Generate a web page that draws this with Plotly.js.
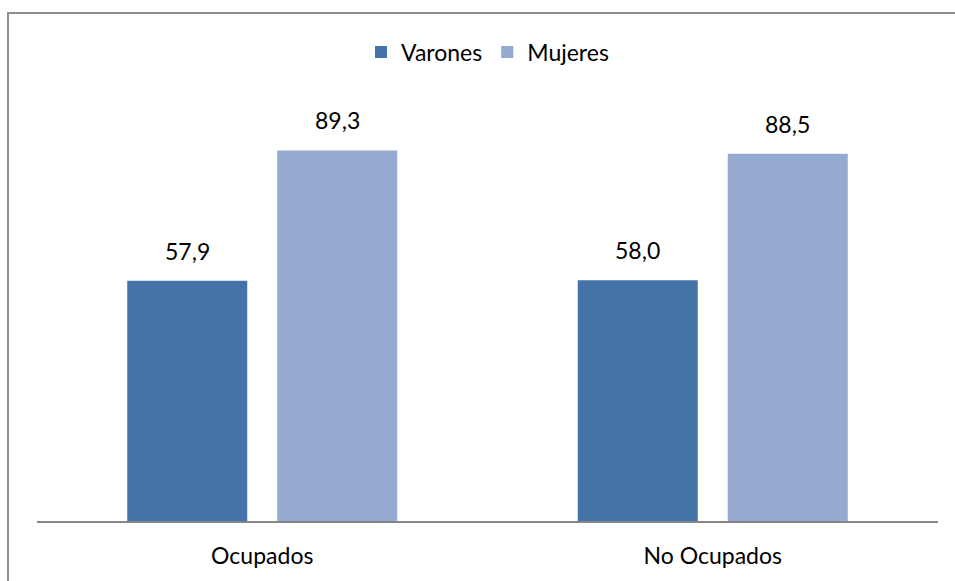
<!DOCTYPE html>
<html>
<head>
<meta charset="utf-8">
<script src="https://cdn.plot.ly/plotly-3.0.1.min.js"></script>
<style>
  html, body { margin: 0; padding: 0; background: #ffffff; }
  #frame { position: absolute; left: 7px; top: 12px; width: 980px; height: 620px;
           border-left: 2px solid #8e8e8e; border-top: 2px solid #8e8e8e; }
  #chart { position: absolute; left: 0; top: 0; width: 955px; height: 581px; }
</style>
</head>
<body>
<div id="frame"></div>
<div id="chart"></div>
<script>
const categories = ['Ocupados', 'No Ocupados'];
const seriesNames = ['Varones', 'Mujeres'];
const varones = [57.9, 58.0];
const mujeres = [89.3, 88.5];
const seriesColors = ['#4572A7', '#96A9D1'];

const allValues = [varones, mujeres];
const FONT = 'Lato, "Open Sans", sans-serif';

const traces = allValues.map((vals, i) => ({
  type: 'bar',
  name: seriesNames[i],
  x: categories,
  y: vals,
  marker: { color: seriesColors[i] },
  hoverinfo: 'skip'
}));

const offsets = [-75, 75];
const annotations = [];
allValues.forEach((vals, i) => {
  vals.forEach((v, j) => {
    annotations.push({
      x: categories[j], y: v, xref: 'x', yref: 'y',
      text: v.toFixed(1).replace('.', ','),
      showarrow: false, yanchor: 'bottom', xanchor: 'center',
      xshift: offsets[i], yshift: 14,
      font: { family: FONT, size: 23, color: '#000000' }
    });
  });
});

const layout = {
  width: 955, height: 581,
  margin: { l: 37, r: 17, t: 106, b: 60 },
  paper_bgcolor: 'rgba(0,0,0,0)',
  plot_bgcolor: 'rgba(0,0,0,0)',
  barmode: 'group',
  bargap: 0.334,
  bargroupgap: 0.2,
  showlegend: true,
  legend: {
    orientation: 'h', x: 0.5, xanchor: 'center', y: 1.13, yanchor: 'middle',
    font: { family: FONT, size: 23, color: '#000000' },
    itemclick: false, itemdoubleclick: false
  },
  xaxis: {
    showline: true, linecolor: '#868686', linewidth: 1.5,
    ticks: '', showgrid: false, zeroline: false,
    tickfont: { family: FONT, size: 23, color: '#000000' },
    ticklabelstandoff: 14,
    fixedrange: true
  },
  yaxis: {
    range: [0, 100], visible: false, showgrid: false, zeroline: false, fixedrange: true
  },
  annotations: annotations,
  font: { family: FONT }
};

Plotly.newPlot('chart', traces, layout, { displayModeBar: false, staticPlot: true });
</script>
</body>
</html>
